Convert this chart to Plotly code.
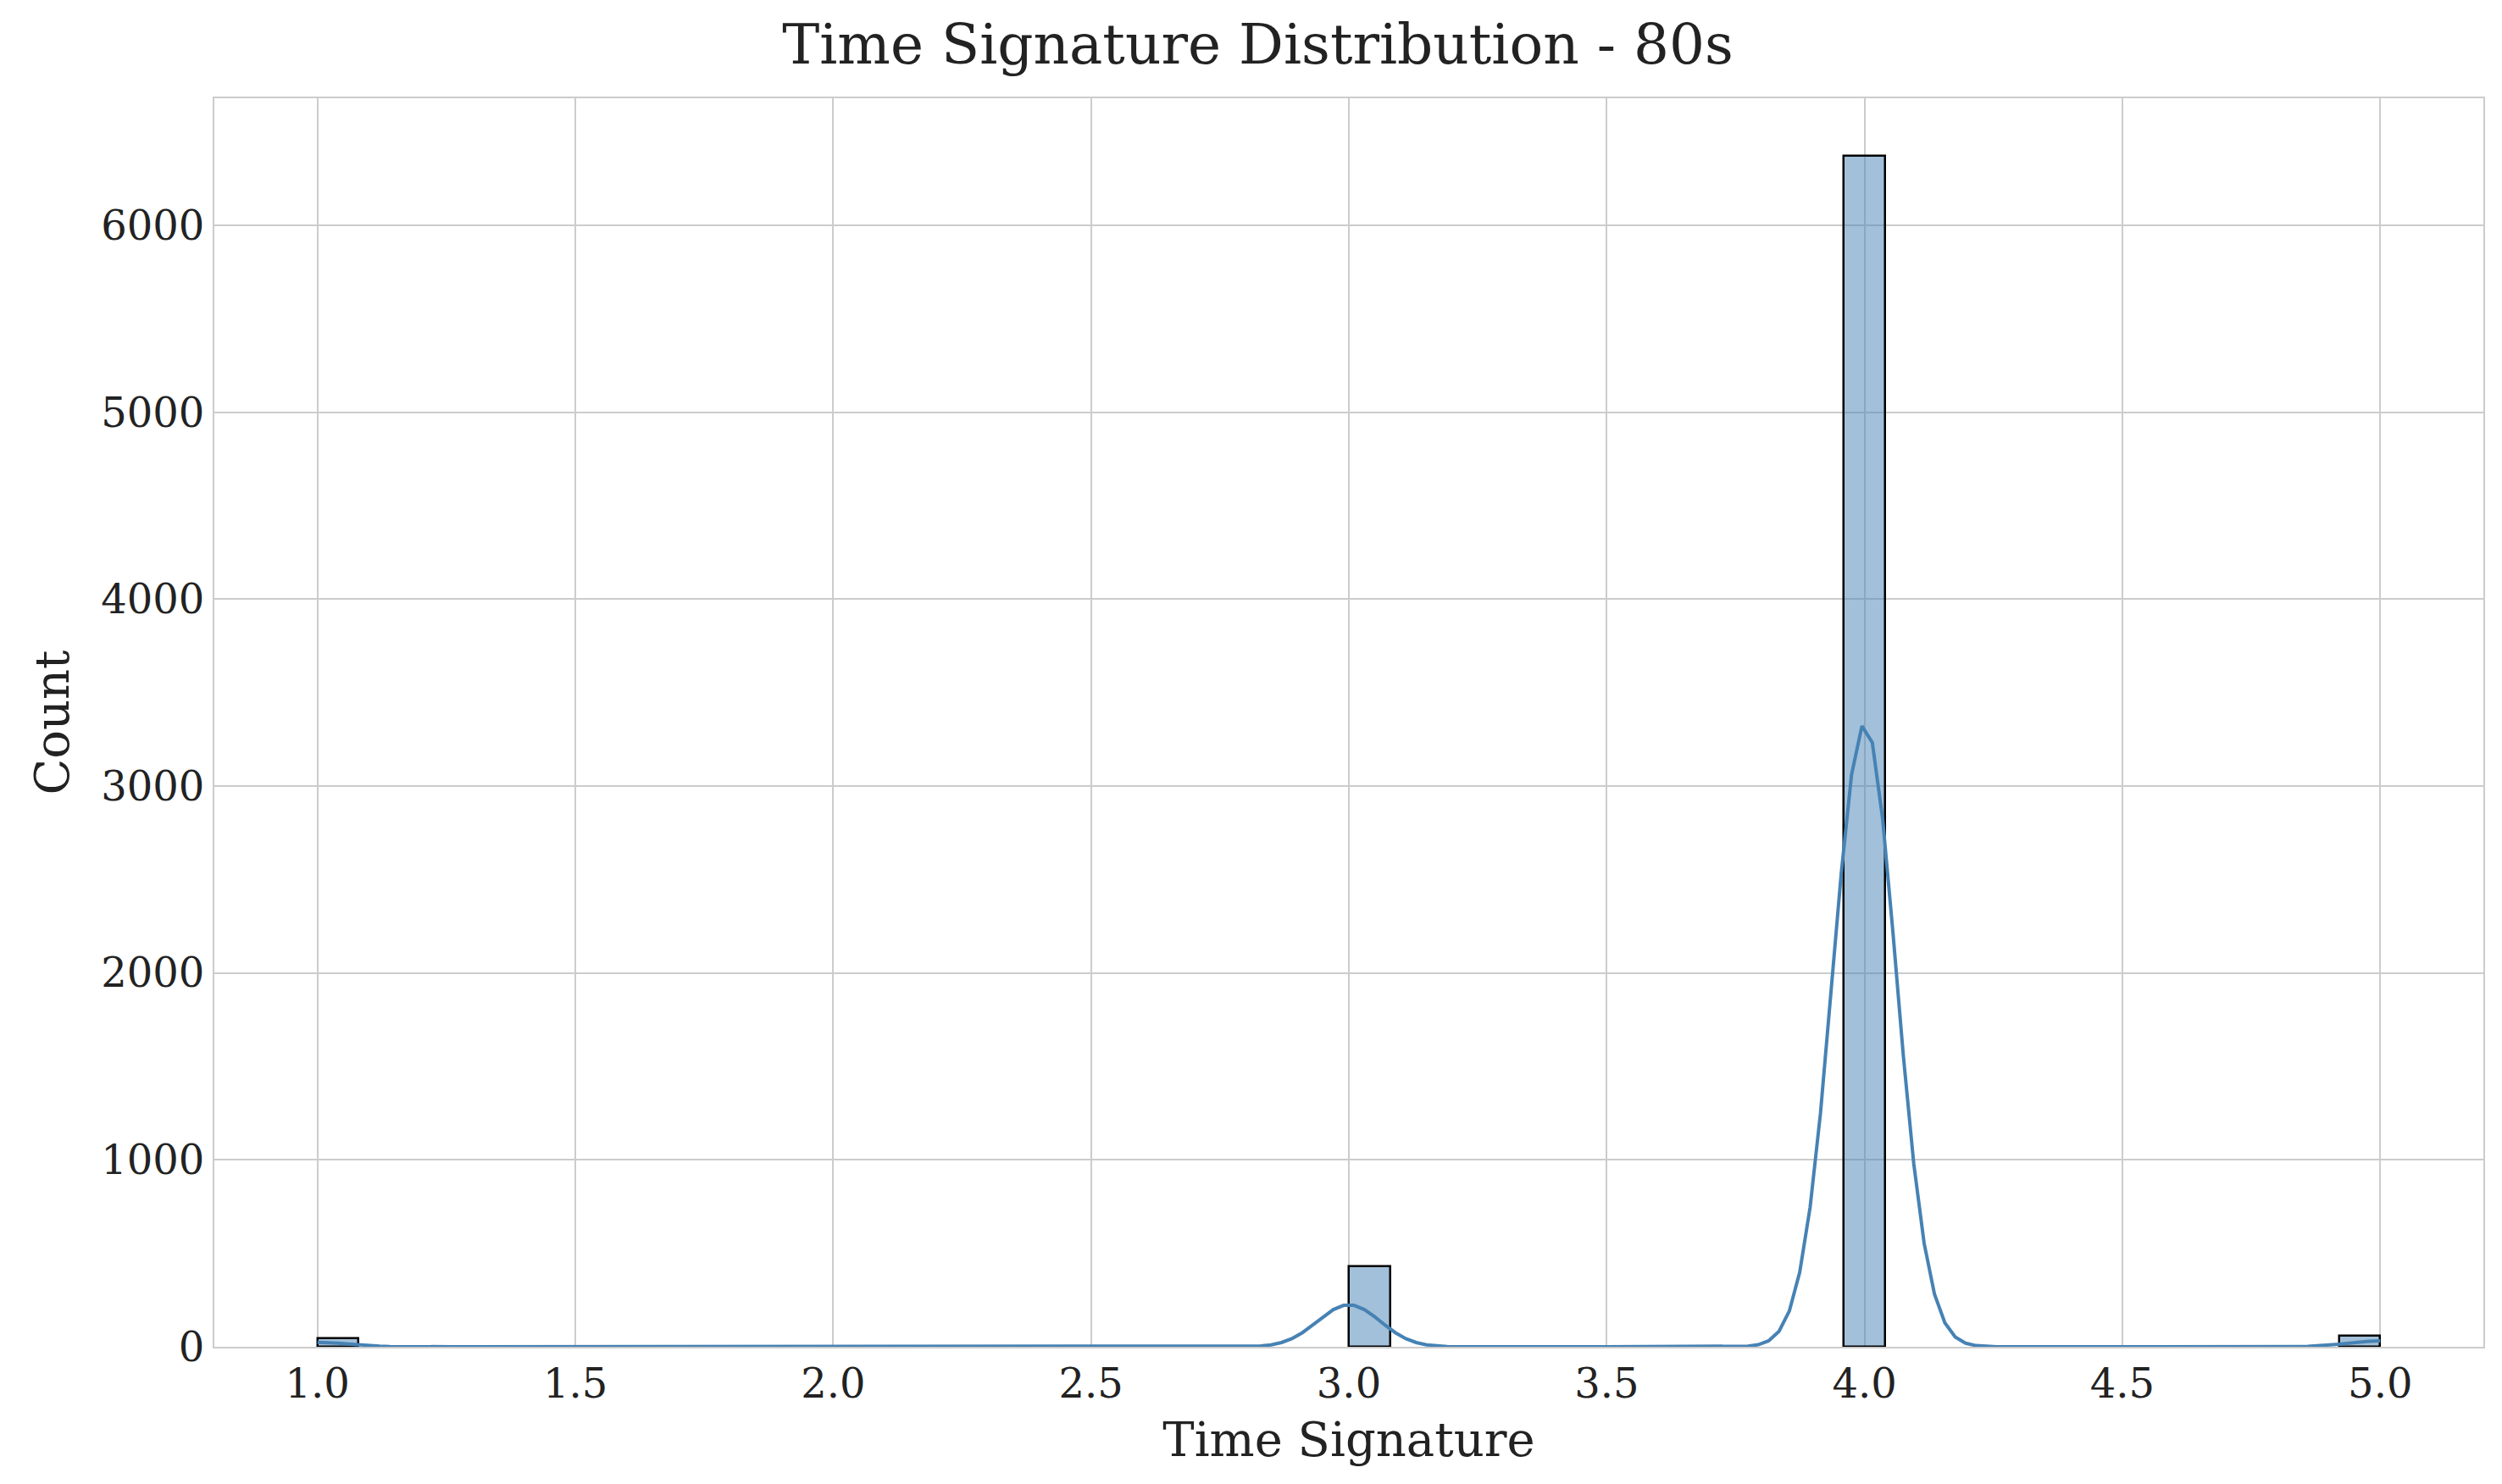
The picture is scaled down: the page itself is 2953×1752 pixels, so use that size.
import numpy as np
import plotly.graph_objects as go

# histogram counts (50 bins from 1 to 5)
sig_values = [1.0, 3.0, 4.0, 5.0]
sig_counts = [45, 430, 6370, 60]
bin_left = [1.0, 3.0, 3.96, 4.92]
bin_width = 0.08
bandwidth = 0.061

# KDE scaled to counts, built from the same counts
grid = np.linspace(1, 5, 200)
kde = np.zeros_like(grid)
for v, c in zip(sig_values, sig_counts):
    kde += c * np.exp(-0.5 * ((grid - v) / bandwidth) ** 2) / (np.sqrt(2 * np.pi) * bandwidth)
kde *= bin_width

fig = go.Figure()
fig.add_trace(go.Bar(
    x=[b + bin_width / 2 for b in bin_left], y=sig_counts, width=bin_width,
    marker=dict(color='rgba(70,130,180,0.5)', line=dict(color='black', width=2.5)),
    showlegend=False,
))
fig.add_trace(go.Scatter(x=grid, y=kde, mode='lines',
                         line=dict(color='steelblue', width=4), showlegend=False))

axis_style = dict(showgrid=True, gridcolor='#cccccc', gridwidth=2, zeroline=False,
                  showline=True, linecolor='#cccccc', linewidth=2, mirror=True,
                  ticks='', tickfont=dict(size=48, color='#222'))
fig.update_layout(
    width=2953, height=1752,
    paper_bgcolor='white', plot_bgcolor='white',
    font=dict(family='DejaVu Serif', color='#222'),
    title=dict(text='Time Signature Distribution - 80s', x=0.5, xanchor='center',
               y=0.988, yanchor='top', font=dict(size=66)),
    margin=dict(l=245, r=30, t=108, b=170),
    bargap=0,
)
fig.update_xaxes(range=[0.8, 5.2], tickvals=[1 + 0.5 * i for i in range(9)],
                 ticktext=[f'{1 + 0.5 * i:.1f}' for i in range(9)],
                 title=dict(text='Time Signature', font=dict(size=56), standoff=20), **axis_style)
fig.update_yaxes(range=[0, 6680], tickvals=list(range(0, 7000, 1000)),
                 title=dict(text='Count', font=dict(size=56), standoff=20), **axis_style)

fig.write_html("out.html")
